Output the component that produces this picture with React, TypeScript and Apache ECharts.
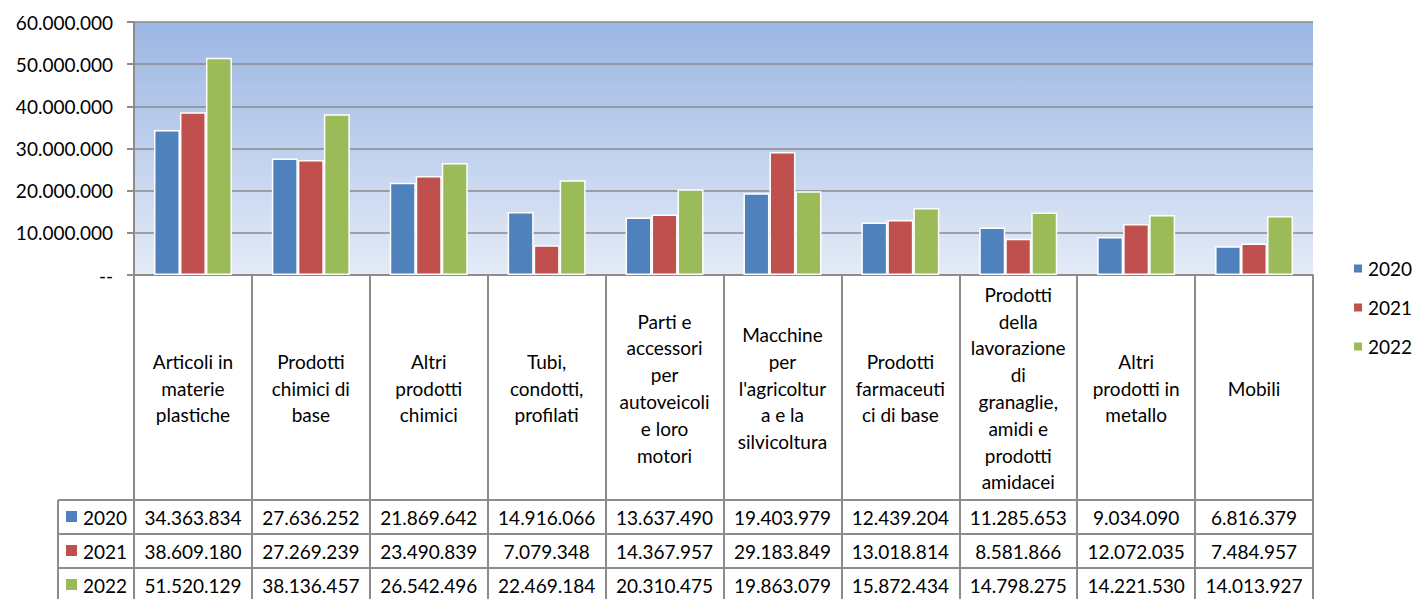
import React, { useEffect, useRef } from "react";
import * as echarts from "echarts";

const categories = [
  "Articoli in materie plastiche",
  "Prodotti chimici di base",
  "Altri prodotti chimici",
  "Tubi, condotti, profilati",
  "Parti e accessori per autoveicoli e loro motori",
  "Macchine per l'agricoltura e la silvicoltura",
  "Prodotti farmaceutici di base",
  "Prodotti della lavorazione di granaglie, amidi e prodotti amidacei",
  "Altri prodotti in metallo",
  "Mobili",
];

const categoryLabels = [
  "Articoli in\nmaterie\nplastiche",
  "Prodotti\nchimici di\nbase",
  "Altri\nprodotti\nchimici",
  "Tubi,\ncondotti,\nprofilati",
  "Parti e\naccessori\nper\nautoveicoli\ne loro\nmotori",
  "Macchine\nper\nl'agricoltur\na e la\nsilvicoltura",
  "Prodotti\nfarmaceuti\nci di base",
  "Prodotti\ndella\nlavorazione\ndi\ngranaglie,\namidi e\nprodotti\namidacei",
  "Altri\nprodotti in\nmetallo",
  "Mobili",
];

const seriesNames = ["2020", "2021", "2022"];
const values2020 = [34363834, 27636252, 21869642, 14916066, 13637490, 19403979, 12439204, 11285653, 9034090, 6816379];
const values2021 = [38609180, 27269239, 23490839, 7079348, 14367957, 29183849, 13018814, 8581866, 12072035, 7484957];
const values2022 = [51520129, 38136457, 26542496, 22469184, 20310475, 19863079, 15872434, 14798275, 14221530, 14013927];
const yTicks = [0, 10000000, 20000000, 30000000, 40000000, 50000000, 60000000];

const colors = ["#4f81bd", "#c0504d", "#9bbb59"];
const FONT = "Lato";
const GRID_LEFT = 134;
const GRID_RIGHT_X = 1313;
const GRID_TOP = 22;
const GRID_BOTTOM_Y = 275;
const W = 1415;
const H = 599;
const TABLE_TOP = 500;
const ROW_H = 34;
const TABLE_LEFT = 58;
const LINE = "#8c8c8c";

function fmt(v: number): string {
  return String(Math.round(v)).replace(/\B(?=(\d{3})+(?!\d))/g, ".");
}

export default function App() {
  const ref = useRef<HTMLDivElement>(null);
  useEffect(() => {
    if (!ref.current) return;
    const chart = echarts.init(ref.current, null, { renderer: "svg" });
    const allValues = [values2020, values2021, values2022];

    const valueAxes = allValues.map((vals, r) => ({
      type: "category",
      data: categories,
      gridIndex: 0,
      position: "bottom",
      offset: 0,
      axisLine: { show: false },
      axisTick: { show: false },
      splitLine: { show: false },
      axisLabel: {
        interval: 0,
        hideOverlap: false,
        margin: TABLE_TOP + ROW_H * r + ROW_H / 2 - GRID_BOTTOM_Y,
        verticalAlign: "middle",
        fontFamily: FONT,
        fontSize: 19,
        color: "#000",
        formatter: (_v: string, i: number) => fmt(vals[i]),
      },
    }));

    const graphics: any[] = [];
    for (let r = 0; r < 3; r++) {
      const y = TABLE_TOP + ROW_H * r;
      graphics.push({
        type: "line",
        shape: { x1: TABLE_LEFT, y1: y, x2: GRID_RIGHT_X, y2: y },
        style: { stroke: LINE, lineWidth: 2 },
      });
      graphics.push({
        type: "rect",
        shape: { x: 66, y: y + 11, width: 11, height: 11 },
        style: { fill: colors[r] },
      });
      graphics.push({
        type: "text",
        x: 83,
        y: y + ROW_H / 2,
        style: {
          text: seriesNames[r],
          fontFamily: FONT,
          fontSize: 19,
          fill: "#000",
          verticalAlign: "middle",
          align: "left",
        },
      });
    }
    graphics.push({
      type: "line",
      shape: { x1: TABLE_LEFT, y1: TABLE_TOP, x2: TABLE_LEFT, y2: H },
      style: { stroke: LINE, lineWidth: 2 },
    });

    chart.setOption({
      animation: false,
      grid: {
        left: GRID_LEFT,
        top: GRID_TOP,
        width: GRID_RIGHT_X - GRID_LEFT,
        height: GRID_BOTTOM_Y - GRID_TOP,
        show: true,
        borderWidth: 0,
        backgroundColor: new echarts.graphic.LinearGradient(0, 0, 0, 1, [
          { offset: 0, color: "#9bb6e3" },
          { offset: 1, color: "#e4ebf7" },
        ]),
      },
      legend: {
        orient: "vertical",
        left: 1347,
        top: 254,
        itemWidth: 10,
        itemHeight: 10,
        itemGap: 20,
        icon: "rect",
        data: seriesNames,
        textStyle: { fontFamily: FONT, fontSize: 19, color: "#000" },
      },
      xAxis: [
        {
          type: "category",
          data: categories,
          gridIndex: 0,
          position: "bottom",
          axisLine: { show: true, lineStyle: { color: LINE, width: 2 } },
          axisTick: {
            show: true,
            interval: 0,
            length: H - GRID_BOTTOM_Y,
            lineStyle: { color: LINE, width: 2 },
          },
          splitLine: { show: false },
          axisLabel: {
            interval: 0,
            hideOverlap: false,
            margin: 113,
            verticalAlign: "middle",
            lineHeight: 26.8,
            fontFamily: FONT,
            fontSize: 19,
            color: "#000",
            formatter: (_v: string, i: number) => categoryLabels[i],
          },
        },
        ...valueAxes,
      ],
      yAxis: {
        type: "value",
        min: yTicks[0],
        max: yTicks[yTicks.length - 1],
        interval: yTicks[1] - yTicks[0],
        axisLine: { show: true, lineStyle: { color: LINE, width: 2 } },
        axisTick: { show: true, length: 7, lineStyle: { color: LINE, width: 2 } },
        splitLine: { show: true, lineStyle: { color: "#8a8a8a", width: 1.5 } },
        axisLabel: {
          margin: 21,
          fontFamily: FONT,
          fontSize: 19,
          color: "#000",
          formatter: (v: number) => (v === 0 ? "--" : fmt(v)),
        },
      },
      series: allValues.map((vals, i) => ({
        name: seriesNames[i],
        type: "bar",
        xAxisIndex: 0,
        data: vals,
        barWidth: 26,
        barGap: "0%",
        itemStyle: { color: colors[i], borderColor: "#ffffff", borderWidth: 1.5 },
      })),
      graphic: graphics,
    });
    return () => chart.dispose();
  }, []);
  return (
    <div
      ref={ref}
      style={{ position: "absolute", left: 0, top: 0, width: W, height: H, background: "#fff" }}
    />
  );
}
